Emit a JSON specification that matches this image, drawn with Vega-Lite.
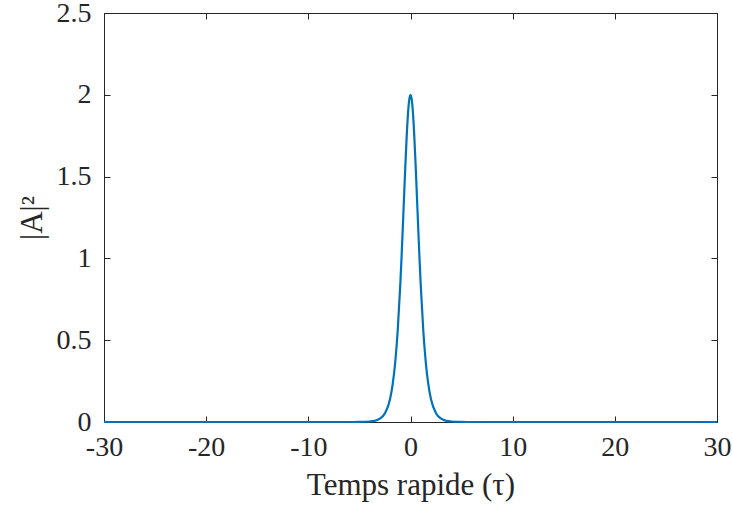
{
  "$schema": "https://vega.github.io/schema/vega-lite/v6.json",
  "width": 613,
  "height": 409,
  "autosize": "none",
  "padding": {"left": 104, "top": 13, "right": 15, "bottom": 84},
  "background": "white",
  "config": {
    "view": {"stroke": null},
    "font": "Liberation Serif",
    "axis": {
      "domainColor": "#262626",
      "domainWidth": 1,
      "tickColor": "#262626",
      "tickWidth": 1,
      "tickSize": -6,
      "grid": false,
      "labelFont": "Liberation Serif",
      "labelFontSize": 28,
      "labelColor": "#262626",
      "titleFont": "Liberation Serif",
      "titleFontSize": 31,
      "titleFontWeight": "normal",
      "titleColor": "#262626"
    }
  },
  "data": {
    "values": [
      {"t": -30, "p": 0},
      {"t": -6, "p": 0},
      {"t": -5, "p": 0.0004},
      {"t": -4, "p": 0.003},
      {"t": -3.5, "p": 0.007},
      {"t": -3, "p": 0.020},
      {"t": -2.5, "p": 0.053},
      {"t": -2, "p": 0.141},
      {"t": -1.75, "p": 0.228},
      {"t": -1.5, "p": 0.361},
      {"t": -1.25, "p": 0.561},
      {"t": -1, "p": 0.840},
      {"t": -0.875, "p": 1.009},
      {"t": -0.75, "p": 1.193},
      {"t": -0.625, "p": 1.385},
      {"t": -0.5, "p": 1.573},
      {"t": -0.375, "p": 1.743},
      {"t": -0.25, "p": 1.880},
      {"t": -0.125, "p": 1.969},
      {"t": 0, "p": 2},
      {"t": 0.125, "p": 1.969},
      {"t": 0.25, "p": 1.880},
      {"t": 0.375, "p": 1.743},
      {"t": 0.5, "p": 1.573},
      {"t": 0.625, "p": 1.385},
      {"t": 0.75, "p": 1.193},
      {"t": 0.875, "p": 1.009},
      {"t": 1, "p": 0.840},
      {"t": 1.25, "p": 0.561},
      {"t": 1.5, "p": 0.361},
      {"t": 1.75, "p": 0.228},
      {"t": 2, "p": 0.141},
      {"t": 2.5, "p": 0.053},
      {"t": 3, "p": 0.020},
      {"t": 3.5, "p": 0.007},
      {"t": 4, "p": 0.003},
      {"t": 5, "p": 0.0004},
      {"t": 6, "p": 0},
      {"t": 30, "p": 0}
    ]
  },
  "layer": [
    {
      "mark": {"type": "line", "color": "#0072BD", "strokeWidth": 2.2, "interpolate": "monotone"},
      "encoding": {
        "x": {
          "field": "t", "type": "quantitative",
          "scale": {"domain": [-30, 30], "nice": false, "zero": false},
          "axis": {"orient": "bottom", "values": [-30, -20, -10, 0, 10, 20, 30], "labelExpr": "'' + datum.value", "title": "Temps rapide (τ)", "labelPadding": 17, "titlePadding": 9, "labelFlush": false}
        },
        "y": {
          "field": "p", "type": "quantitative",
          "scale": {"domain": [0, 2.5], "nice": false},
          "axis": {"orient": "left", "values": [0, 0.5, 1, 1.5, 2, 2.5], "labelExpr": "'' + datum.value", "title": "|A|²", "labelPadding": 19, "titlePadding": 8}
        }
      }
    },
    {
      "mark": {"type": "line", "strokeOpacity": 0},
      "encoding": {
        "x": {
          "field": "t", "type": "quantitative",
          "scale": {"domain": [-30, 30], "nice": false, "zero": false},
          "axis": {"orient": "top", "values": [-30, -20, -10, 0, 10, 20, 30], "labels": false, "title": null}
        },
        "y": {
          "field": "p", "type": "quantitative",
          "scale": {"domain": [0, 2.5], "nice": false},
          "axis": {"orient": "right", "values": [0, 0.5, 1, 1.5, 2, 2.5], "labels": false, "title": null}
        }
      }
    }
  ],
  "resolve": {"axis": {"x": "independent", "y": "independent"}}
}
